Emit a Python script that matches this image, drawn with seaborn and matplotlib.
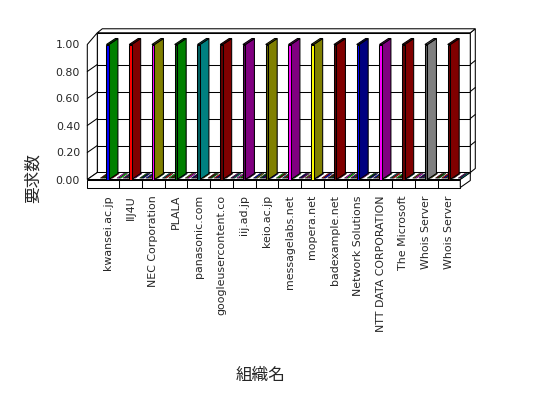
import matplotlib
matplotlib.use("Agg")
import matplotlib.pyplot as plt
import matplotlib.transforms as mtransforms
from matplotlib.patches import Polygon, Rectangle
from matplotlib.lines import Line2D
import pandas as pd
import seaborn as sns

# ---------------- data ----------------
categories = ["kwansei.ac.jp", "IIJ4U", "NEC Corporation", "PLALA", "panasonic.com",
              "googleusercontent.co", "iij.ad.jp", "keio.ac.jp", "messagelabs.net",
              "mopera.net", "badexample.net", "Network Solutions", "NTT DATA CORPORATION",
              "The Microsoft", "Whois Server", "Whois Server"]
request_counts = [1.00, 1.00, 1.00, 1.00, 1.00, 1.00, 1.00, 1.00,
                  1.00, 1.00, 1.00, 1.00, 1.00, 1.00, 1.00, 1.00]
side_colors = ["#008000", "#800000", "#808000", "#008000", "#008080", "#800000",
               "#800080", "#808000", "#800080", "#808000", "#800000", "#000080",
               "#800080", "#800000", "#808080", "#800000"]
front_colors = ["#0000FF", "#FF0000", "#FF00FF", "#006000", "#006060", "#600000",
                "#600060", "#606000", "#FF00FF", "#FFFF00", "#600000", "#0000FF",
                "#FF00FF", "#600000", "#606060", "#600000"]
y_ticks = [0.0, 0.2, 0.4, 0.6, 0.8, 1.0]
y_tick_labels = ["0.00", "0.20", "0.40", "0.60", "0.80", "1.00"]
x_title = "組織名"
y_title = "要求数"
floor_palette = ["#800000", "#008000", "#000080", "#800080", "#008080", "#FF0000",
                 "#0000FF", "#808000", "#FF00FF", "#00FF00"]

# ---------------- style ----------------
sns.set_style("white")
plt.rcParams["font.family"] = ["DejaVu Sans", "Noto Sans CJK JP"]
TICK_FS = 7.9
LW = 0.75

W, H = 548, 398
fig = plt.figure(figsize=(W / 100, H / 100), dpi=100)
fig.patch.set_facecolor("white")
cell0, cellw = 96.3, 22.75
n = len(categories)
ax = fig.add_axes([cell0 / W, (H - 179.5) / H, n * cellw / W, 135 / H])

df = pd.DataFrame({"pos": list(range(n)),
                   "key": [str(i) for i in range(n)],
                   "count": request_counts})
sns.barplot(data=df, x="pos", y="count", hue="key",
            palette=dict(zip(df["key"], front_colors)), dodge=False,
            width=0.11, saturation=1, legend=False, edgecolor="black",
            linewidth=LW, ax=ax)
bars = [p for p in ax.patches if isinstance(p, Rectangle)]
ax.set_xlim(-0.5, n - 0.5)
ax.set_ylim(0, 1)

IDT = mtransforms.IdentityTransform()


def P(x, v):
    return ax.transData.transform((x, v))


def poly(pts, fc, z, lw=LW, ec="black"):
    ax.add_artist(Polygon(pts, closed=True, transform=IDT, clip_on=False,
                          facecolor=fc, edgecolor=ec, linewidth=lw, zorder=z))


def line(p0, p1, z, lw=LW):
    ax.add_artist(Line2D([p0[0], p1[0]], [p0[1], p1[1]], transform=IDT,
                         clip_on=False, color="black", linewidth=lw, zorder=z))


# box geometry (pixels)
DX, DY = 10, 7          # depth of the chart box
FT = 8                  # floor thickness
LWALL = 9               # left wall offset
WT = (5, 4)             # back wall thickness
BDX, BDY = 9, 6         # bar depth

xl = P(-0.5, 0)[0] - LWALL
xr = P(n - 0.5, 0)[0]
y0 = P(0, 0)[1]
ytop_front = P(0, 1.0)[1]
ytop_back = P(0, 1.035)[1] + DY

# back wall
poly([(xl + DX, y0 + DY), (xr + DX, y0 + DY), (xr + DX, ytop_back), (xl + DX, ytop_back)],
     "white", 0.1)
# back wall thickness (right + top)
poly([(xr + DX, y0 + DY), (xr + DX + WT[0], y0 + DY + WT[1]),
      (xr + DX + WT[0], ytop_back + WT[1]), (xr + DX, ytop_back)], "white", 0.1)
poly([(xl + DX, ytop_back), (xr + DX, ytop_back),
      (xr + DX + WT[0], ytop_back + WT[1]), (xl + DX + WT[0], ytop_back + WT[1])],
     "white", 0.1)
# left wall
poly([(xl, y0), (xl + DX, y0 + DY), (xl + DX, ytop_back), (xl, ytop_front)], "white", 0.12)

# gridlines
for v in y_ticks[1:-1]:
    yv = P(0, v)[1]
    line((xl + DX, yv + DY), (xr + DX, yv + DY), 0.15)
    line((xl, yv), (xl + DX, yv + DY), 0.15)
    line((xr + DX, yv + DY), (xr + DX + WT[0], yv + DY + WT[1]), 0.15)

# floor
poly([(xl, y0), (xr, y0), (xr + DX, y0 + DY), (xl + DX, y0 + DY)], "white", 0.2)
poly([(xl, y0 - FT), (xr, y0 - FT), (xr, y0), (xl, y0)], "white", 0.2)
poly([(xr, y0 - FT), (xr + DX, y0 - FT + DY), (xr + DX, y0 + DY), (xr, y0)], "white", 0.2)
for k in range(1, n):
    xk = P(k - 0.5, 0)[0]
    line((xk, y0 - FT), (xk, y0), 0.25)

# zero-height bars on the floor
ntile = 10
f0, f1 = 0.2, 0.85
for i in range(n):
    a = P(i - 0.5, 0)[0] + 2
    tw = (cellw - 2) / ntile
    for k in range(ntile):
        if k in (6, 7):
            continue
        xa = a + k * tw
        poly([(xa + f0 * DX, y0 + f0 * DY), (xa + tw + f0 * DX, y0 + f0 * DY),
              (xa + tw + f1 * DX, y0 + f1 * DY), (xa + f1 * DX, y0 + f1 * DY)],
             floor_palette[(3 * i + k) % len(floor_palette)], 0.3, lw=0.35)

# 3D bar faces derived from the seaborn bars
for p in bars:
    i = int(round(p.get_x() + p.get_width() / 2))
    h = p.get_height()
    if h <= 0:
        continue
    bl = P(p.get_x(), 0)
    tr = P(p.get_x() + p.get_width(), h)
    poly([(tr[0], bl[1]), (tr[0] + BDX, bl[1] + BDY), (tr[0] + BDX, tr[1] + BDY), (tr[0], tr[1])],
         side_colors[i], 2.0)
    poly([(bl[0], tr[1]), (tr[0], tr[1]), (tr[0] + BDX, tr[1] + BDY), (bl[0] + BDX, tr[1] + BDY)],
         side_colors[i], 2.0)
    p.set_zorder(2.1)
    p.set_clip_on(False)

# ticks / labels
ax.set_yticks(y_ticks)
ax.set_yticklabels(y_tick_labels, fontsize=TICK_FS)
ax.set_xticks(range(n))
ax.set_xticklabels(categories, rotation=90, fontsize=TICK_FS)
ax.tick_params(axis="y", length=0, pad=11.7)
ax.tick_params(axis="x", length=0, pad=11.2)
ax.set_xlabel("")
ax.set_ylabel("")
ax.grid(False)
for s in ax.spines.values():
    s.set_visible(False)
ax.patch.set_visible(False)

fig.text(33 / W, 1 - 178 / H, y_title, rotation=90, ha="center", va="center",
         fontsize=12, family=["Noto Sans CJK JP", "DejaVu Sans"])
fig.text(261 / W, 1 - 375 / H, x_title, ha="center", va="center",
         fontsize=12, family=["Noto Sans CJK JP", "DejaVu Sans"])

fig.savefig("out.png", dpi=100, facecolor="white")
